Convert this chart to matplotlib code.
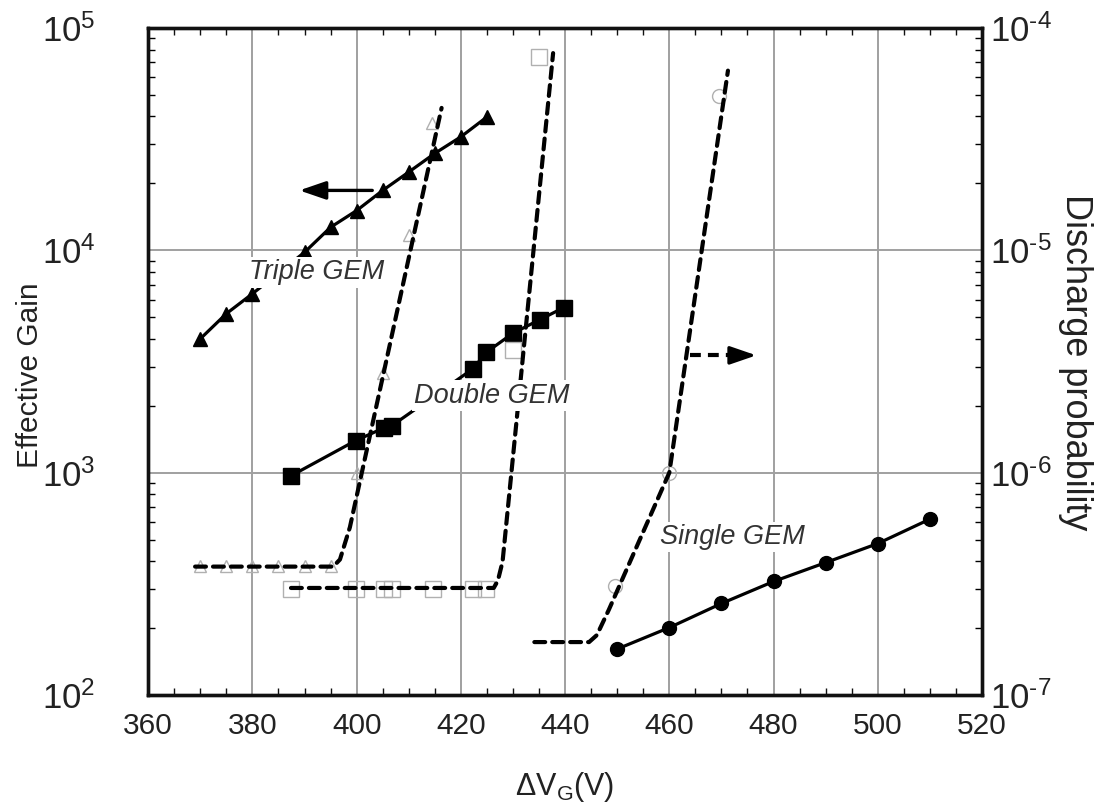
import numpy as np
import matplotlib
matplotlib.use("Agg")
import matplotlib.pyplot as plt
from matplotlib.ticker import FixedLocator, FuncFormatter, LogLocator, NullFormatter, MultipleLocator

# ---------------- data ----------------
# Effective gain (left axis)
triple_v = [370, 375, 380, 390, 395, 400, 405, 410, 415, 420, 425]
triple_gain = [4000, 5190, 6380, 9800, 12700, 15100, 18600, 22500, 27300, 32400, 39800]

double_v = [387.4, 399.8, 405.2, 406.8, 422.3, 424.9, 430.0, 435.1, 439.7]
double_gain = [968, 1393, 1589, 1629, 2930, 3480, 4240, 4870, 5520]

single_v = [450, 460, 470, 480, 490, 500, 510]
single_gain = [161, 201, 258, 324, 394, 480, 618]

# Discharge probability (right axis): measured points
triple_pv = [370, 375, 380, 385, 390, 395, 400, 405, 410, 414.5]
triple_p = [3.8e-7, 3.8e-7, 3.8e-7, 3.8e-7, 3.8e-7, 3.8e-7, 1.0e-6, 2.8e-6, 1.17e-5, 3.73e-5]

double_pv = [387.4, 399.8, 405.2, 406.8, 414.7, 422.3, 424.9, 430.0, 435.0]
double_p = [3.0e-7, 3.0e-7, 3.0e-7, 3.0e-7, 3.0e-7, 3.0e-7, 3.0e-7, 3.57e-6, 7.38e-5]

single_pv = [449.6, 460.0, 469.6]
single_p = [3.1e-7, 1.0e-6, 4.92e-5]

# Discharge probability: dashed guide curves (as read)
triple_cv = [369.0, 395.5, 396.8, 398.7, 416.3]
triple_c = [3.78e-7, 3.78e-7, 4.07e-7, 5.68e-7, 4.37e-5]

double_cv = [387.4, 426.3, 427.1, 428.0, 437.7]
double_c = [3.03e-7, 3.03e-7, 3.27e-7, 3.98e-7, 7.71e-5]

single_cv = [434.1, 444.6, 446.1, 448.4, 460.0, 471.25]
single_c = [1.73e-7, 1.73e-7, 1.86e-7, 2.42e-7, 1.0e-6, 6.43e-5]

labels = ["Triple GEM", "Double GEM", "Single GEM"]
label_pos_v = [392.4, 426.0, 472.2]
label_pos_gain = [7960, 2220, 512]

arrow_left = (403.0, 389.0, 1.86e4)     # from V, to V, at gain
arrow_right = (464.0, 476.7, 3.37e3)

xticks = [360, 380, 400, 420, 440, 460, 480, 500, 520]

# ---------------- style ----------------
fam = ["Liberation Sans", "DejaVu Sans"]
plt.rcParams["font.family"] = fam
plt.rcParams["mathtext.fontset"] = "custom"
plt.rcParams["mathtext.rm"] = "Liberation Sans"
plt.rcParams["mathtext.it"] = "Liberation Sans:italic"
plt.rcParams["mathtext.default"] = "regular"

fig = plt.figure(figsize=(10.94, 8.10), dpi=100)
ax = fig.add_axes([148.2 / 1094, 1 - 695 / 810, (982 - 148.2) / 1094, (695 - 28) / 810])
ax2 = ax.twinx()

ax.set_xlim(360, 520)
ax.set_yscale("log")
ax.set_ylim(1e2, 1e5)
ax2.set_yscale("log")
ax2.set_ylim(1e-7, 1e-4)

grid_c = "#a0a0a0"
ax.grid(True, which="major", color=grid_c, lw=1.4)
ax.set_axisbelow(True)

txt_c = "#222222"
for a in (ax, ax2):
    for s in a.spines.values():
        s.set_linewidth(2.4)
        s.set_color("#111111")

ax.xaxis.set_major_locator(FixedLocator(xticks))
ax.xaxis.set_minor_locator(MultipleLocator(5))
ax.tick_params(axis="x", which="both", direction="in", top=True, labelsize=21.5,
               pad=12, colors="#111111", labelcolor=txt_c)
ax.tick_params(axis="x", which="major", length=0)
ax.tick_params(axis="x", which="minor", length=5, width=1)

def pow_fmt(val, pos):
    e = int(round(np.log10(val)))
    if e < 0:
        return r"$10^{\text{-}%d}$" % (-e)
    return r"$10^{%d}$" % e

ax.yaxis.set_major_locator(LogLocator(base=10, numticks=10))
ax.yaxis.set_major_formatter(FuncFormatter(pow_fmt))
ax.yaxis.set_minor_locator(LogLocator(base=10, subs=np.arange(2, 10), numticks=20))
ax.yaxis.set_minor_formatter(NullFormatter())
ax.tick_params(axis="y", which="major", direction="in", length=0, labelsize=25, pad=38,
               labelcolor=txt_c)
ax.tick_params(axis="y", which="minor", direction="in", length=5, width=1)

ax2.yaxis.set_major_locator(LogLocator(base=10, numticks=10))
ax2.yaxis.set_major_formatter(FuncFormatter(pow_fmt))
ax2.yaxis.set_minor_locator(LogLocator(base=10, subs=np.arange(2, 10), numticks=20))
ax2.yaxis.set_minor_formatter(NullFormatter())
ax2.tick_params(axis="y", which="major", direction="in", length=0, labelsize=25, pad=6,
                labelcolor=txt_c)
ax2.tick_params(axis="y", which="minor", direction="in", length=5, width=1)

# ---------------- gain curves ----------------
ax.plot(triple_v, triple_gain, color="black", lw=2.3, marker="^", ms=10,
        markerfacecolor="black", zorder=3)
ax.plot(double_v, double_gain, color="black", lw=2.3, marker="s", ms=11,
        markerfacecolor="black", zorder=3)
ax.plot(single_v, single_gain, color="black", lw=2.3, marker="o", ms=10,
        markerfacecolor="black", zorder=3)

# ---------------- discharge probability ----------------
open_c = "#b0b0b0"
ax2.plot(triple_pv, triple_p, ls="none", marker="^", ms=9, mfc="none", mec=open_c, mew=1.0, zorder=2)
ax2.plot(double_pv, double_p, ls="none", marker="s", ms=11, mfc="none", mec=open_c, mew=1.0, zorder=2)
ax2.plot(single_pv, single_p, ls="none", marker="o", ms=10, mfc="none", mec=open_c, mew=1.0, zorder=2)

dash = (0, (2.6, 1.7))
for cv, c in ((triple_cv, triple_c), (double_cv, double_c), (single_cv, single_c)):
    ax2.plot(cv, c, color="black", lw=3.0, ls=dash, zorder=3, dash_capstyle="round")

# ---------------- labels and arrows ----------------
for lab, v, g in zip(labels, label_pos_v, label_pos_gain):
    ax2.text(v, g * 1e-9, lab, fontsize=19.5, style="italic",
             color="#333333", ha="center", va="center", zorder=5,
             bbox=dict(facecolor="white", edgecolor="none", pad=1.5))

ax2.annotate("", xy=(arrow_left[1], arrow_left[2] * 1e-9), xytext=(arrow_left[0], arrow_left[2] * 1e-9),
             arrowprops=dict(arrowstyle="-|>,head_length=1.6,head_width=0.55", color="black", lw=2.4,
                             shrinkA=0, shrinkB=0), zorder=6)
# dashed right arrow: dashed shaft + solid head
head_start = arrow_right[1] - 2.5
ax2.plot([arrow_right[0], head_start], [arrow_right[2] * 1e-9] * 2, color="black", lw=3.0,
         ls=dash, zorder=6)
ax2.annotate("", xy=(arrow_right[1], arrow_right[2] * 1e-9), xytext=(head_start, arrow_right[2] * 1e-9),
             arrowprops=dict(arrowstyle="-|>,head_length=1.6,head_width=0.55", color="black", lw=2.4,
                             shrinkA=0, shrinkB=0), zorder=6)

fig.text(30 / 1094, 1 - 375 / 810, "Effective Gain", fontsize=21.5, color=txt_c,
         rotation=90, ha="center", va="center")
fig.text(1075 / 1094, 1 - 362 / 810, "Discharge probability", fontsize=26, color=txt_c,
         rotation=270, ha="center", va="center")
ax.set_xlabel(r"$\Delta$V$_{G}$(V)", fontsize=22, color=txt_c, labelpad=22)

fig.savefig("out.png", dpi=100, facecolor="white")
